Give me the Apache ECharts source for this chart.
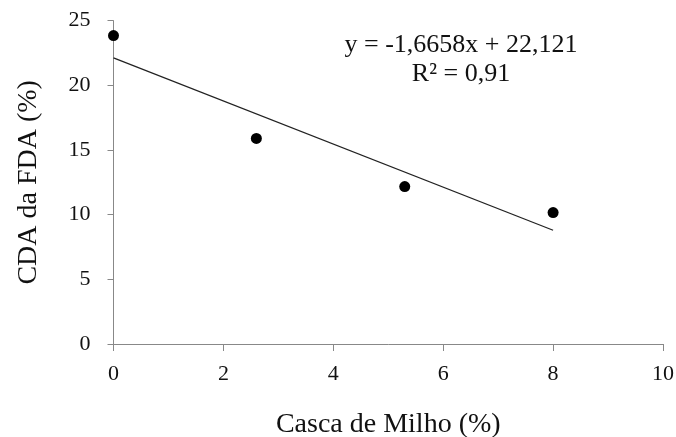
<!DOCTYPE html>
<html><head><meta charset="utf-8">
<script src="https://cdn.jsdelivr.net/npm/echarts@6/dist/echarts.min.js"></script>
<style>html,body{margin:0;padding:0;background:#fff}#c{width:676px;height:437px}</style>
</head><body><div id="c"></div>
<script>
const xValues = [0, 2.6, 5.3, 8.0];
const yValues = [23.85, 15.9, 12.17, 10.16];
const trendX = [0, 8];
const trendY = [22.121, 8.795];
const xTicks = [0, 2, 4, 6, 8, 10];
const yTicks = [0, 5, 10, 15, 20, 25];
const equationText = 'y = -1,6658x + 22,121';
const r2Text = 'R² = 0,91';

const font = '"Liberation Serif", "DejaVu Serif", serif';
const chart = echarts.init(document.getElementById('c'));
chart.setOption({
  backgroundColor: '#fff',
  animation: false,
  grid: {left: 113.5, right: 13, top: 20.7, bottom: 93, containLabel: false, outerBoundsMode: 'none'},
  xAxis: {
    type: 'value', min: xTicks[0], max: xTicks[xTicks.length-1], interval: 2,
    name: 'Casca de Milho (%)', nameLocation: 'middle', nameGap: 67,
    nameTextStyle: {fontFamily: font, fontSize: 28, color: '#111'},
    axisLine: {show: true, lineStyle: {color: '#888', width: 1}},
    axisTick: {show: true, length: 7, lineStyle: {color: '#888'}},
    axisLabel: {fontFamily: font, fontSize: 22, color: '#111', margin: 19},
    splitLine: {show: false}
  },
  yAxis: {
    type: 'value', min: yTicks[0], max: yTicks[yTicks.length-1], interval: 5,
    name: 'CDA da FDA (%)', nameLocation: 'middle', nameGap: 71, nameRotate: 90,
    nameTextStyle: {fontFamily: font, fontSize: 28, color: '#111'},
    axisLine: {show: true, lineStyle: {color: '#888', width: 1}},
    axisTick: {show: true, length: 6, lineStyle: {color: '#888'}},
    axisLabel: {fontFamily: font, fontSize: 22, color: '#111', margin: 23},
    splitLine: {show: false}
  },
  graphic: [
    {type: 'text', x: 461, y: 45, style: {text: equationText, font: '26px ' + font, fill: '#111', align: 'center', verticalAlign: 'middle'}},
    {type: 'text', x: 461, y: 74, style: {text: r2Text, font: '26px ' + font, fill: '#111', align: 'center', verticalAlign: 'middle'}}
  ],
  series: [
    {type: 'line', data: trendX.map((x,i)=>[x, trendY[i]]), symbol: 'none',
     lineStyle: {color: '#222', width: 1.3}, z: 1},
    {type: 'scatter', data: xValues.map((x,i)=>[x, yValues[i]]), symbol: 'circle', symbolSize: 11,
     itemStyle: {color: '#000', opacity: 1}, z: 2}
  ]
});
</script></body></html>
